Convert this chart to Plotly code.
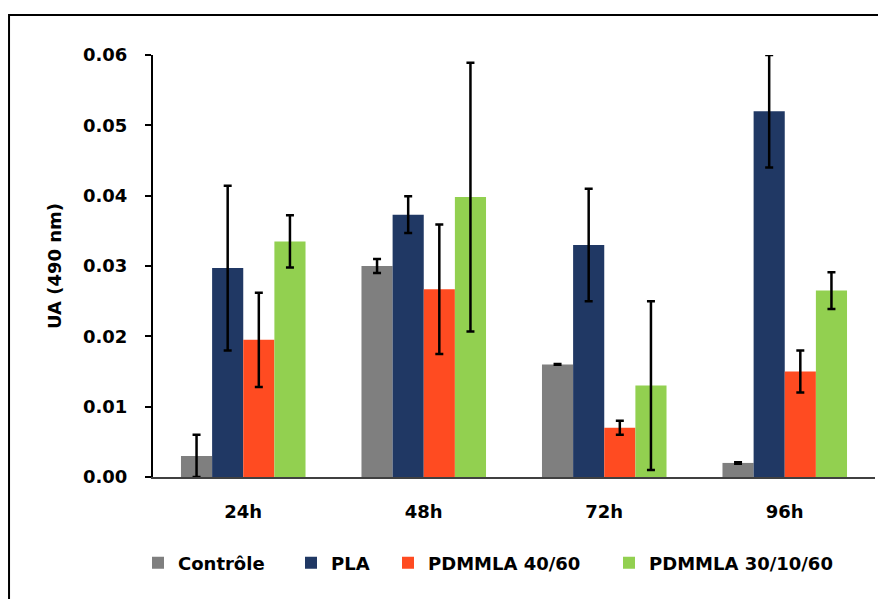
import plotly.graph_objects as go

categories = ["24h", "48h", "72h", "96h"]
series_names = ["Contrôle", "PLA", "PDMMLA 40/60", "PDMMLA 30/10/60"]
controle = [0.003, 0.030, 0.016, 0.002]
controle_err = [0.003, 0.001, 0.00005, 0.0001]
pla = [0.0297, 0.0373, 0.033, 0.052]
pla_err = [0.0117, 0.0026, 0.008, 0.008]
pdmmla_4060 = [0.0195, 0.0267, 0.007, 0.015]
pdmmla_4060_err = [0.0067, 0.0092, 0.001, 0.003]
pdmmla_301060 = [0.0335, 0.0398, 0.013, 0.0265]
pdmmla_301060_err = [0.0037, 0.0191, 0.012, 0.0026]
colors = ["#7F7F7F", "#203864", "#FF4B21", "#92D050"]
y_ticks = [0.0, 0.01, 0.02, 0.03, 0.04, 0.05, 0.06]
y_ticklabels = ["0.00", "0.01", "0.02", "0.03", "0.04", "0.05", "0.06"]

values = [controle, pla, pdmmla_4060, pdmmla_301060]
errors = [controle_err, pla_err, pdmmla_4060_err, pdmmla_301060_err]

FONT = "DejaVu Sans"
FS = 18
PLOT_L, PLOT_W = 145, 722
legend_keys = ["legend", "legend2", "legend3", "legend4"]
square_left_px = [144, 297, 394, 615]  # in figure pixels

fig = go.Figure()
for name, v, e, c, lk in zip(series_names, values, errors, colors, legend_keys):
    fig.add_trace(go.Bar(
        x=categories, y=v, name=name, legend=lk,
        marker=dict(color=c, line=dict(width=0)),
        error_y=dict(type="data", array=e, visible=True, color="black",
                     thickness=2.5, width=4),
    ))

legend_layouts = {}
for lk, sx in zip(legend_keys, square_left_px):
    legend_layouts[lk] = dict(
        orientation="h", x=(sx - 14 - PLOT_L) / PLOT_W, xanchor="left",
        y=-0.204, yanchor="middle", bgcolor="rgba(0,0,0,0)",
        font=dict(family=FONT, size=FS, color="black", weight="bold"),
        itemwidth=30)

fig.update_layout(
    width=886, height=599,
    barmode="group", bargap=0.31, bargroupgap=0,
    plot_bgcolor="white", paper_bgcolor="white",
    margin=dict(l=PLOT_L, r=19, t=47, b=130),
    font=dict(family=FONT, size=FS, color="black"),
    showlegend=True,
    xaxis=dict(range=[-0.5, 3.5], showline=True, linecolor="#404040", linewidth=1.5,
               ticks="", tickfont=dict(family=FONT, size=FS, weight="bold"),
               showgrid=False, zeroline=False, ticklabelstandoff=18),
    yaxis=dict(range=[0, 0.06], tickvals=y_ticks, ticktext=y_ticklabels,
               showline=True, linecolor="black", linewidth=2,
               ticks="outside", ticklen=6, tickwidth=2, tickcolor="black",
               ticklabelstandoff=14,
               tickfont=dict(family=FONT, size=FS, weight="bold"),
               showgrid=False, zeroline=False,
               title=dict(text="UA (490 nm)", font=dict(family=FONT, size=FS, weight="bold"),
                          standoff=17)),
    shapes=[dict(type="rect", xref="paper", yref="paper",
                 x0=-0.1994, x1=1.2, y0=-0.5, y1=1.0948,
                 line=dict(color="black", width=2), fillcolor="rgba(0,0,0,0)", layer="below")],
    **legend_layouts,
)

fig.write_html("out.html")
